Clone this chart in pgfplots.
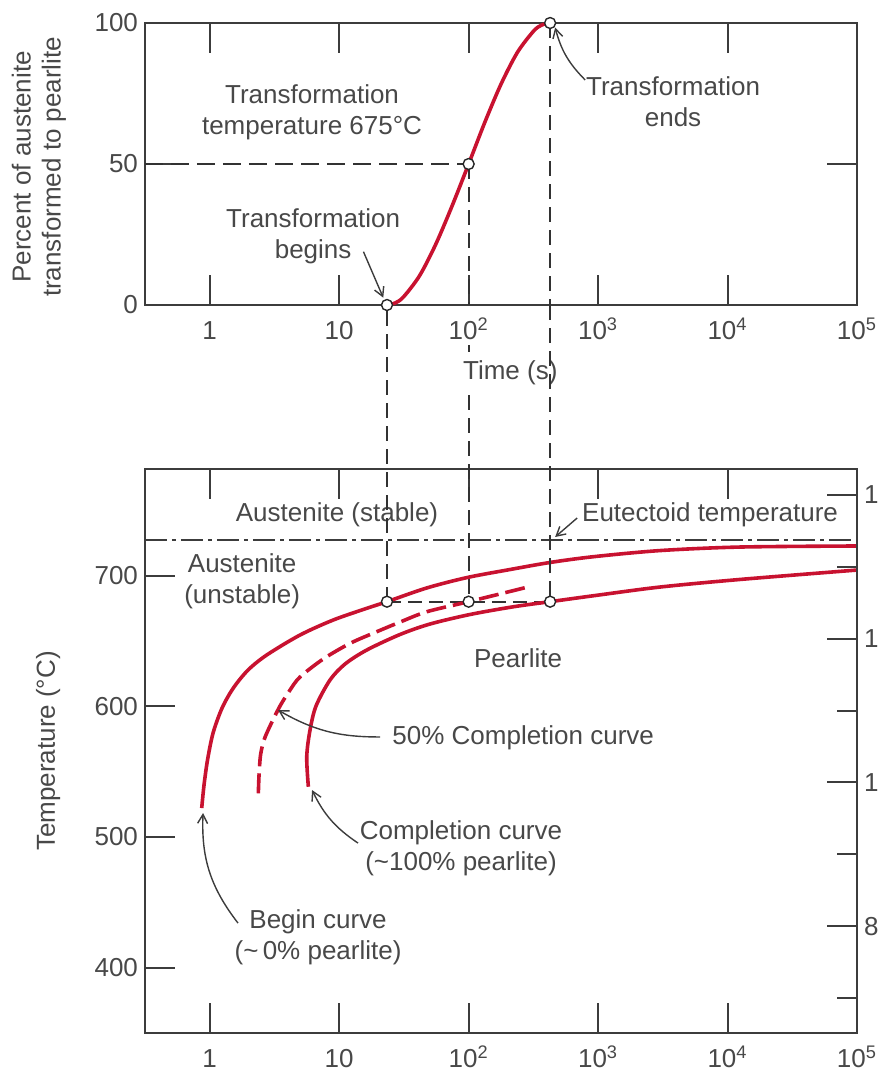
\documentclass[border=0pt]{standalone}
\usepackage{pgfplots}
\pgfplotsset{compat=1.18}
\usepackage{fontspec}
\setmainfont{Liberation Sans}
\usetikzlibrary{arrows.meta}

\definecolor{curvered}{RGB}{200,18,48}
\definecolor{axgray}{RGB}{60,60,60}
\definecolor{txtgray}{RGB}{72,72,72}
\definecolor{dashgray}{RGB}{50,50,50}

\pgfplotsset{
  every axis/.append style={
    scale only axis, width=356pt,
    xmode=log, xmin=0.31623, xmax=100000,
    xtick={1,10,100,1000,10000,100000},
    xticklabels={1,10,10\textsuperscript{2},10\textsuperscript{3},10\textsuperscript{4},10\textsuperscript{5}},
    xminorticks=false,
    tick align=inside,
    major tick length=15pt,
    axis line style={axgray, line width=1pt},
    tick style={axgray, line width=1pt},
    tick label style={txtgray, font=\fontsize{13}{15.5}\selectfont},
    xticklabel style={text height=10pt, text depth=3pt, yshift=-3.5pt},
    clip=false,
  },
}
\tikzset{
  ann/.style={text=txtgray, align=center, font=\fontsize{13}{15.5}\selectfont},
  arr/.style={draw=axgray, line width=0.7pt, -{Straight Barb[length=4.5pt,width=5pt]}},
  vdash/.style={draw=dashgray, line width=0.9pt, dash pattern=on 7.5pt off 4pt},
}

\begin{document}
\begin{tikzpicture}[font=\fontsize{13}{15.5}\selectfont]
\useasboundingbox (0pt,0pt) rectangle (439.5pt,-536pt);

% ---------------- top panel ----------------
\begin{axis}[name=top,
  at={(72.5pt,-152.5pt)}, anchor=south west,
  height=141pt,
  ymin=0, ymax=100,
  ytick={0,50,100}, yticklabels={0,50,100},
  ylabel={Percent of austenite\\transformed to pearlite},
  ylabel style={text=txtgray, font=\fontsize{13}{15}\selectfont, align=center, at={(axis description cs:-0.149,0.49)}, anchor=center},
  xlabel={Time (s)},
  xlabel style={text=txtgray, font=\fontsize{13}{15}\selectfont, at={(axis description cs:0.513,-0.241)}, anchor=center},
]
\addplot[dashgray, line width=0.9pt, dash pattern=on 9pt off 4pt] coordinates {(0.31623,50) (100,50)};
\draw[vdash] (axis cs:100,50) -- (axis cs:100,0);
\draw[vdash] (axis cs:426,100) -- (axis cs:426,0);
\addplot[curvered, line width=1.8pt, smooth] coordinates {
(23.4,0) (27.0,0.7) (31.3,2.8) (41.8,10.4) (55.8,21.6) (74.6,35.2) (100,50)
(133.4,64.8) (178.2,78.4) (238.2,89.6) (318.4,97.2) (368,99.3) (426,100)};
\addplot[only marks, mark=*, mark size=2.75pt, mark options={fill=white, draw=black!85, line width=0.7pt}] coordinates {(23.4,0) (100,50) (426,100)};
\coordinate (t0) at (axis cs:23.4,0);
\coordinate (t2) at (axis cs:426,0);
\node[ann] at (axis cs:6.17,68.4) {Transformation\\temperature 675°C};
\node[ann] at (axis cs:6.29,24.5) {Transformation\\begins};
\draw[arr] (axis cs:15.4,18.9) -- (axis cs:21.9,2.6);
\node[ann] at (axis cs:3793,72) {Transformation\\ends};
\draw[arr] (axis cs:795,79.8) to[bend left=15] (axis cs:466,98.4);
\end{axis}

% ---------------- bottom panel ----------------
\begin{axis}[name=bot,
  at={(72.5pt,-516.5pt)}, anchor=south west,
  height=282pt,
  ymin=350, ymax=781.5,
  ytick={400,500,600,700}, yticklabels={400,500,600,700},
  ytick pos=left,
  ylabel={Temperature (°C)},
  ylabel style={text=txtgray, font=\fontsize{13}{15}\selectfont, at={(axis description cs:-0.136,0.5)}, anchor=center},
]
\addplot[axgray, line width=0.9pt, dash pattern=on 11pt off 2.5pt on 2pt off 2.5pt] coordinates {(0.31623,727) (100000,727)};
\addplot[dashgray, line width=0.9pt, dash pattern=on 7pt off 3.5pt] coordinates {(23.4,680) (426,680)};
\draw[vdash] (axis cs:100,838) -- (axis cs:100,680);
\draw[draw=dashgray, line width=0.9pt] (axis cs:100,876) -- (axis cs:100,871);
% begin curve
\addplot[curvered, line width=1.8pt, smooth] coordinates {
(0.867,522.1) (0.904,539.9) (0.962,559.0) (1.061,579.5) (1.245,598.6) (1.521,613.9)
(1.977,627.7) (2.756,639.2) (4.985,654.5) (9.01,666.0) (16.32,674.9) (23.4,680)
(47.5,690.5) (97.7,698.5) (208.8,704.6) (426,710.0) (919,714.4) (3010,719.1)
(12490,721.8) (100000,722.6)};
% 50% curve
\addplot[curvered, line width=1.8pt, smooth, dash pattern=on 10pt off 3.5pt] coordinates {
(2.374,533.4) (2.404,547.4) (2.469,562.7) (2.628,574.2) (2.923,584.9) (3.492,600.2)
(4.172,612.4) (4.985,622.4) (7.545,636.2) (12.13,648.1) (19.50,657.0) (29.52,664.4)
(47.47,672.3) (100,680) (281.1,691.0)};
% completion curve
\addplot[curvered, line width=1.8pt, smooth] coordinates {
(5.78,538.4) (5.615,561.4) (5.954,581.8) (6.625,600.2) (8.50,620.1) (11.10,632.3)
(16.32,643.0) (29.52,654.9) (50.3,662.9) (102.5,670.2) (221.5,676.1) (426,680)
(947,684.7) (3010,691.2) (12490,697.0) (100000,704.2)};
\addplot[only marks, mark=*, mark size=2.75pt, mark options={fill=white, draw=black!85, line width=0.7pt}] coordinates {(23.4,680) (100,680) (426,680)};
\coordinate (b0) at (axis cs:23.4,680);
\coordinate (b2) at (axis cs:426,680);
\node[ann] at (axis cs:9.62,746.3) {Austenite (stable)};
\node[ann] at (axis cs:7330,746.3) {Eutectoid temperature};
\draw[arr] (axis cs:689,744) -- (axis cs:466,729.5);
\node[ann] at (axis cs:1.78,695.8) {Austenite\\(unstable)};
\node[ann] at (axis cs:241,636.9) {Pearlite};
\node[ann, anchor=west, inner sep=0pt] at (axis cs:25.6,575.7) {50\% Completion curve};
\draw[arr] (axis cs:20.7,576.5) to[bend left=15] (axis cs:3.37,597.1);
\node[ann] at (axis cs:87.3,491.5) {Completion curve\\(\textasciitilde 100\% pearlite)};
\draw[arr] (axis cs:13.98,495.3) to[bend left=15] (axis cs:6.17,535.9);
\node[ann] at (axis cs:6.87,423.4) {Begin curve\\(\textasciitilde\,0\% pearlite)};
\draw[arr] (axis cs:1.654,434.1) to[bend left=20] (axis cs:0.888,518.3);
\end{axis}

% ---------------- right Fahrenheit scale ----------------
\begin{axis}[
  at={(72.5pt,-516.5pt)}, anchor=south west,
  height=282pt,
  hide x axis,
  ymin=651.3, ymax=1436.2,
  ytick={800,1000,1200,1400}, yticklabels={800,1000,1200,1400},
  minor ytick={700,900,1100,1300},
  ytick pos=right, yticklabel pos=right,
  minor tick length=10pt,
]
\addplot[draw=none] coordinates {(1,1000)};
\end{axis}

% projection lines between the two panels
\draw[vdash] ([yshift=-3pt]t0) -- ([yshift=3pt]b0);
\draw[vdash] (t2) -- ([yshift=3pt]b2);
\end{tikzpicture}
\end{document}
